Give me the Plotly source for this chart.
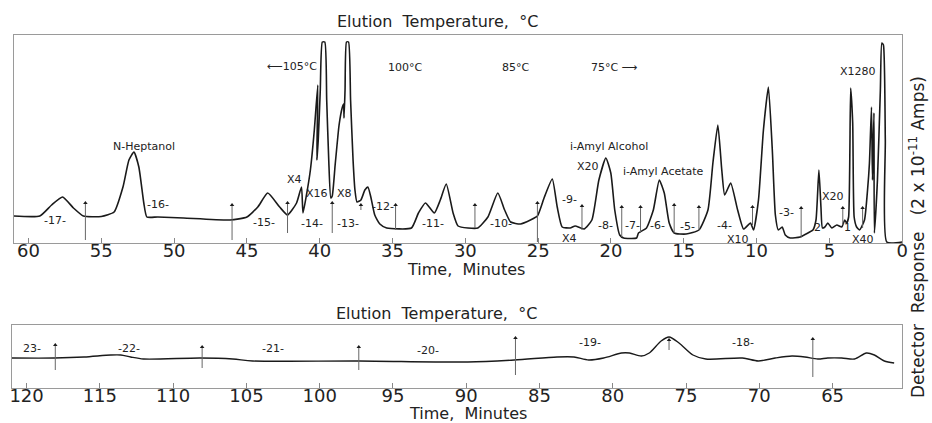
import plotly.graph_objects as go

W, H = 932, 423

# ---------------- data ----------------
# Upper trace: time (minutes) vs detector response (chart units)
top_time = [61.0, 59.22, 58.41, 57.66, 56.91, 56.23, 55.00, 54.12, 53.51, 53.10,
            52.76, 52.42, 52.08, 51.87, 51.12, 49.35, 46.15, 45.00, 44.25, 43.57,
            42.75, 42.21, 41.59, 41.25, 41.15, 40.91, 40.64, 40.37, 40.13, 40.20,
            40.10, 39.96, 39.82, 39.65, 39.52, 39.38, 39.24, 39.14, 38.94, 38.67,
            38.46, 38.36, 38.33, 38.26, 38.16, 38.02, 37.88, 37.71, 37.58, 37.44,
            37.17, 36.90, 36.69, 36.49, 36.22, 35.87, 35.40, 33.70, 33.22, 32.74,
            32.13, 31.72, 31.31, 30.84, 30.50, 29.82, 29.14, 28.45, 27.77, 27.30,
            26.89, 26.21, 25.53, 25.05, 24.57, 24.03, 23.69, 23.35, 22.80, 22.46,
            21.85, 21.31, 20.83, 20.35, 20.01, 19.74, 19.40, 19.13, 18.24, 18.11,
            17.56, 17.09, 16.68, 16.34, 16.00, 15.66, 14.84, 13.96, 13.34, 13.00,
            12.66, 12.39, 12.19, 11.78, 11.30, 10.89, 10.42, 10.21, 9.87, 9.53,
            9.19, 8.92, 8.71, 8.51, 8.24, 8.03, 7.69, 7.01, 6.47, 6.13,
            5.92, 5.72, 5.58, 5.48, 5.31, 5.11, 4.83, 4.49, 4.15, 3.95,
            3.81, 3.68, 3.54, 3.40, 3.30, 3.13, 2.93, 2.59, 2.38, 2.25,
            2.11, 2.04, 1.94, 1.91, 1.70, 1.50, 1.40, 1.29, 1.16, 1.06,
            0.0]
top_resp = [26, 26, 37, 45, 34, 26, 25.5, 30, 55, 82,
            90, 75, 39, 25, 25, 24, 22, 25, 35, 49,
            35, 27, 39, 55, 29, 47, 72, 112, 157, 82,
            102, 152, 200, 200, 142, 82, 44, 46, 77, 117,
            134, 138, 124, 152, 200, 200, 142, 82, 52, 40,
            42, 52, 55, 45, 27, 18, 14, 14, 29, 39,
            29, 42, 58, 29, 16, 14, 14, 25, 49, 32,
            20, 18, 22, 26, 45, 63, 35, 15, 14, 16,
            13, 22, 62, 84, 69, 32, 7, 4, 4, 9,
            14, 32, 62, 49, 19, 9, 8, 12, 32, 79,
            117, 72, 47, 59, 32, 13, 19, 12, 42, 112,
            155, 92, 27, 12, 15, 7, 4, 5, 9, 12,
            22, 72, 35, 14, 15, 19, 14, 17, 15, 22,
            19, 25, 154, 119, 25, 15, 12, 22, 52, 79,
            135, 62, 129, 9, 62, 152, 199, 197, 102, 0,
            0]

# Lower trace
bottom_time = [121.0, 118.11, 116.08, 114.25, 113.57, 112.90, 112.02, 108.16, 105.93, 104.57,
               97.33, 89.89, 86.71, 83.80, 82.65, 81.64, 80.62, 79.40, 78.86, 78.05,
               77.51, 76.70, 76.16, 75.48, 74.53, 73.65, 71.15, 70.07, 68.92, 67.77,
               66.89, 66.01, 65.33, 64.38, 63.50, 62.69, 62.15, 61.47, 60.80]
bottom_resp = [30, 30, 31, 33, 33, 31, 29, 30, 29, 27,
               27, 26, 28, 31, 31, 28, 30, 35, 35, 32,
               35, 47, 51, 45, 33, 29, 30, 27, 30, 32,
               31, 29, 30, 30, 29, 35, 33, 27, 25]

# Fraction cut markers (time, top, bottom)
top_cut_time = [56.09, 46.02, 42.21, 39.14, 37.17, 34.79, 29.34, 25.05, 21.99,
                19.26, 17.97, 15.66, 13.96, 10.28, 6.94, 4.08, 2.72]
top_cut_hi = [39, 37, 39, 39, 37, 37, 37, 39, 36, 35, 35, 37, 35, 35, 34, 34, 34]
top_cut_lo = [2, 2, 9, 9, 32, 12, 14, 0, 12, 5, 9, 9, 12, 17, 5, 17, 14]

bottom_cut_time = [118.04, 108.02, 97.33, 86.64, 76.16, 66.35]
bottom_cut_hi = [43, 41, 41, 50, 48, 49]
bottom_cut_lo = [18, 20, 18, 13, 38, 11]

top_ticks = [60, 55, 50, 45, 40, 35, 30, 25, 20, 15, 10, 5, 0]
bottom_ticks = [120, 115, 110, 105, 100, 95, 90, 85, 80, 75, 70, 65]

# ---------------- figure ----------------
INK = "#1a1a1a"
FRAME = "#9a9a9a"
FONT = "DejaVu Sans"


def seg(ts, hi, lo):
    xs, ys = [], []
    for t, a, b in zip(ts, hi, lo):
        xs += [t, t, None]
        ys += [a, b, None]
    return xs, ys


fig = go.Figure()
fig.add_trace(go.Scatter(x=top_time, y=top_resp, mode="lines",
                         line=dict(color=INK, width=1.6, shape="spline", smoothing=0.5),
                         xaxis="x", yaxis="y", hoverinfo="skip"))
fig.add_trace(go.Scatter(x=bottom_time, y=bottom_resp, mode="lines",
                         line=dict(color=INK, width=1.4, shape="spline", smoothing=0.8),
                         xaxis="x2", yaxis="y2", hoverinfo="skip"))

sx, sy = seg(top_cut_time, top_cut_hi, top_cut_lo)
fig.add_trace(go.Scatter(x=sx, y=sy, mode="lines", line=dict(color="#666", width=1),
                         xaxis="x", yaxis="y", hoverinfo="skip"))
fig.add_trace(go.Scatter(x=top_cut_time, y=top_cut_hi, mode="markers",
                         marker=dict(symbol="triangle-up", size=4, color=INK),
                         xaxis="x", yaxis="y", hoverinfo="skip"))
sx, sy = seg(bottom_cut_time, bottom_cut_hi, bottom_cut_lo)
fig.add_trace(go.Scatter(x=sx, y=sy, mode="lines", line=dict(color="#666", width=1),
                         xaxis="x2", yaxis="y2", hoverinfo="skip"))
fig.add_trace(go.Scatter(x=bottom_cut_time, y=bottom_cut_hi, mode="markers",
                         marker=dict(symbol="triangle-up", size=4, color=INK),
                         xaxis="x2", yaxis="y2", hoverinfo="skip"))

axis_common = dict(showgrid=False, zeroline=False, showline=True, linecolor=FRAME,
                   linewidth=1, mirror=True)
xtick_common = dict(ticks="inside", ticklen=5, tickcolor="#888", tickwidth=1,
                    ticklabelstandoff=-9,
                    tickfont=dict(family=FONT, size=18, color="#222"))

fig.update_layout(
    width=W, height=H, margin=dict(l=0, r=0, t=0, b=0),
    paper_bgcolor="white", plot_bgcolor="white", showlegend=False,
    xaxis=dict(domain=[12 / W, 908 / W], range=[61, 0], tickvals=top_ticks,
               anchor="y", **axis_common, **xtick_common),
    yaxis=dict(domain=[1 - 243 / H, 1 - 35 / H], range=[-1, 207], showticklabels=False,
               anchor="x", **axis_common),
    xaxis2=dict(domain=[10 / W, 908 / W], range=[121, 60.25], tickvals=bottom_ticks,
                anchor="y2", **axis_common, **xtick_common),
    yaxis2=dict(domain=[1 - 388 / H, 1 - 325 / H], range=[0, 63], showticklabels=False,
                anchor="x2", **axis_common),
)


def P(x, y):
    return x / W, 1 - y / H


labels = [
    ("\u27f5105°C", 293, 66, 11), ("100°C", 406, 67, 11), ("85°C", 518, 67, 11),
    ("75°C \u27f6", 618, 67, 11), ("N-Heptanol", 143, 146, 11),
    ("X4", 295, 180, 11), ("X16", 318, 193, 11), ("X8", 345, 193, 11),
    ("-17-", 53, 220, 11), ("-16-", 157, 205, 11), ("-15-", 264, 222, 11),
    ("-14-", 313, 223, 11), ("-13-", 349, 223, 11), ("-12-", 384, 207, 11),
    ("-11-", 435, 223, 11), ("-10-", 503, 223, 11), ("-9-", 572, 199, 11),
    ("-8-", 609, 225, 11), ("-7-", 636, 225, 11), ("-6-", 661, 225, 11),
    ("-5-", 691, 226, 11), ("-4-", 729, 225, 11), ("-3-", 791, 213, 11),
    ("2", 823, 227, 11), ("1", 853, 227, 11),
    ("X4", 572, 238, 11), ("X10", 742, 239, 11),
    ("i-Amyl Alcohol", 612, 146, 11), ("X20", 591, 166, 11),
    ("i-Amyl Acetate", 667, 171, 11), ("X20", 838, 196, 11),
    ("X40", 868, 239, 11), ("X1280", 863, 71, 11),
    ("23-", 30, 348, 11), ("-22-", 128, 348, 11), ("-21-", 273, 348, 11),
    ("-20-", 430, 350, 11), ("-19-", 593, 342, 11), ("-18-", 747, 342, 11),
    ("Elution\u00a0\u00a0Temperature,\u00a0\u00a0°C", 439, 22, 16),
    ("Elution\u00a0\u00a0Temperature,\u00a0\u00a0°C", 438, 313, 16),
    ("Time,\u00a0\u00a0Minutes", 468, 269, 16),
    ("Time,\u00a0\u00a0Minutes", 470, 413, 16),
]
for text, x, y, size in labels:
    px_, py_ = P(x, y)
    fig.add_annotation(text=text, x=px_, y=py_, xref="paper", yref="paper",
                       showarrow=False, xanchor="center", yanchor="middle",
                       font=dict(family=FONT, size=size, color="#222"))

rx, ry = P(923, 237)
fig.add_annotation(text="Detector\u00a0 Response\u00a0\u00a0 (2 x 10<sup>-11</sup> Amps)",
                   x=rx, y=ry, xref="paper", yref="paper", showarrow=False,
                   textangle=-90, xanchor="center", yanchor="middle",
                   font=dict(family=FONT, size=17, color="#222"))

fig.write_html("out.html")
